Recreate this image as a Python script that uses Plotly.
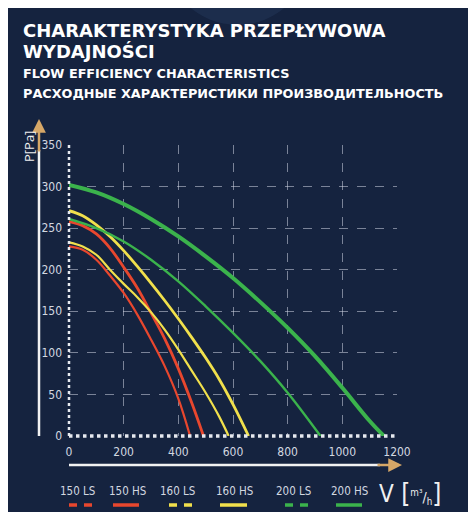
import plotly.graph_objects as go

# airflow V [m3/h] and pressure P [Pa]
v_150ls = [0, 50, 100, 150, 200, 250, 300, 350, 400, 443]
p_150ls = [228, 224, 212, 193, 172, 146, 116, 84, 45, 0]

v_150hs = [0, 50, 100, 150, 200, 250, 300, 350, 400, 450, 492]
p_150hs = [258, 253, 243, 226, 203, 178, 148, 117, 81, 39, 0]

v_160ls = [0, 50, 100, 150, 200, 250, 300, 350, 400, 450, 500, 550, 584]
p_160ls = [233, 228, 218, 200, 183, 167, 149, 128, 104, 78, 52, 23, 0]

v_160hs = [0, 50, 100, 150, 200, 250, 300, 350, 400, 450, 500, 550, 600, 657]
p_160hs = [271, 265, 254, 240, 223, 204, 184, 163, 141, 118, 94, 68, 38, 0]

v_200ls = [0, 100, 200, 300, 400, 500, 600, 700, 800, 920]
p_200ls = [261, 250, 234, 212, 186, 156, 124, 90, 52, 0]

v_200hs = [0, 100, 200, 300, 400, 500, 600, 700, 800, 900, 1000, 1100, 1152]
p_200hs = [302, 293, 279, 261, 240, 216, 190, 161, 130, 96, 58, 18, 0]

names = ["150 LS", "150 HS", "160 LS", "160 HS", "200 LS", "200 HS"]
x_ticks = [0, 200, 400, 600, 800, 1000, 1200]
y_ticks = [0, 50, 100, 150, 200, 250, 300, 350]

RED = "#e8472e"
YEL = "#f1e04c"
GRN = "#3bb34c"
BG = "#15233f"
TXT = "#d3d8e0"
NARROW = "Liberation Sans Narrow, DejaVu Sans Condensed, sans-serif"
HEAD = "DejaVu Sans, sans-serif"

series = [
    (v_150ls, p_150ls, RED, 2.2, "dash"),
    (v_150hs, p_150hs, RED, 2.8, "solid"),
    (v_160ls, p_160ls, YEL, 2.2, "dash"),
    (v_160hs, p_160hs, YEL, 2.8, "solid"),
    (v_200ls, p_200ls, GRN, 2.4, "dash"),
    (v_200hs, p_200hs, GRN, 4.0, "solid"),
]

fig = go.Figure()
for (vx, py, col, w, d), nm in zip(series, names):
    fig.add_trace(go.Scatter(x=vx, y=py, mode="lines", name=nm, line_shape="spline",
                             line=dict(color=col, width=w), showlegend=False))

# page has an 8px body margin, so the figure is made smaller and shifted
OFF = 8
W, H = 476 - OFF, 512 - OFF
# plot area in screen pixels: x 69..397, y 145..436
L, R, T, B = 69, 397, 145, 436
pw, ph = R - L, B - T


def px(x):
    return (x - L) / pw


def py_(y):
    return (B - y) / ph


fig.update_layout(
    width=W, height=H,
    margin=dict(l=L - OFF, r=476 - R, t=T - OFF, b=512 - B),
    paper_bgcolor=BG, plot_bgcolor="rgba(0,0,0,0)",
    font=dict(family=NARROW, color=TXT, size=12),
)
fig.update_xaxes(range=[0, 1200], tickvals=x_ticks, showgrid=True, gridcolor="rgba(205,212,225,0.55)",
                 griddash="dash", gridwidth=1, zeroline=False, showline=False, ticks="",
                 ticklabelstandoff=7, fixedrange=True)
fig.update_yaxes(range=[0, 350], tickvals=y_ticks, showgrid=True, gridcolor="rgba(205,212,225,0.55)",
                 griddash="dash", gridwidth=1, zeroline=False, showline=False, ticks="",
                 ticklabelstandoff=6, fixedrange=True)

shapes = []
# faint glow at the top of the background
shapes.append(dict(type="circle", xref="paper", yref="paper", layer="below",
                   x0=px(165), x1=px(310), y0=py_(25), y1=py_(-120),
                   fillcolor="rgba(70,100,150,0.16)", line=dict(width=0)))
# plot frame: left and bottom edges
shapes.append(dict(type="line", xref="paper", yref="paper", x0=0, x1=0, y0=0, y1=1,
                   line=dict(color="#e6e9ef", width=2.5, dash="dot")))
shapes.append(dict(type="line", xref="paper", yref="paper", x0=0, x1=1, y0=0, y1=0,
                   line=dict(color="#e6e9ef", width=3.5, dash="dot")))
# axis arrows
shapes.append(dict(type="line", xref="paper", yref="paper", x0=px(39), x1=px(39), y0=py_(436), y1=py_(150),
                   line=dict(color="#f2f2f2", width=2.5)))
shapes.append(dict(type="line", xref="paper", yref="paper", x0=px(69), x1=px(380), y0=py_(465), y1=py_(465),
                   line=dict(color="#f2f2f2", width=2.5)))

annotations = [
    dict(x=px(39), y=py_(119), ax=0, ay=34, xref="paper", yref="paper", showarrow=True,
         arrowhead=2, arrowsize=1.1, arrowwidth=2.5, arrowcolor="#d6a767", text=""),
    dict(x=px(402), y=py_(465), ax=-26, ay=0, xref="paper", yref="paper", showarrow=True,
         arrowhead=2, arrowsize=1.1, arrowwidth=2.5, arrowcolor="#d6a767", text=""),
    dict(x=px(29), y=py_(147), xref="paper", yref="paper", xanchor="center", yanchor="middle",
         text="P[Pa]", textangle=-90, showarrow=False,
         font=dict(family="Open Sans, sans-serif", size=13, color="#f0f0f0")),
    dict(x=px(377), y=py_(493), xref="paper", yref="paper", xanchor="left", yanchor="middle",
         text="V<span style='font-size:26px'> [</span><span style='font-size:14px'><sup>m³</sup>/<sub>h</sub>"
              "</span><span style='font-size:26px'>]</span>",
         showarrow=False, font=dict(family=NARROW, size=24, color="#f0f0f0")),
]
heads = [
    ("<b>CHARAKTERYSTYKA PRZEPŁYWOWA</b>", 30, 18),
    ("<b>WYDAJNOŚCI</b>", 51, 18),
    ("<b>FLOW EFFICIENCY CHARACTERISTICS</b>", 73, 12.8),
    ("<b>РАСХОДНЫЕ ХАРАКТЕРИСТИКИ ПРОИЗВОДИТЕЛЬНОСТЬ</b>", 94, 12.8),
]
for txt, ypix, sz in heads:
    annotations.append(dict(x=px(21), y=py_(ypix), xref="paper", yref="paper", xanchor="left",
                            yanchor="middle", text=txt, showarrow=False,
                            font=dict(family=HEAD, size=sz, color="white")))

# custom legend: label above a line sample
label_x = [77, 127, 177, 234, 293, 349]
key_x = [(69, 92), (113, 139), (169, 193), (220, 247), (285, 308), (336, 362)]
for nm, (vx, py, col, w, d), lx, (k0, k1) in zip(names, series, label_x, key_x):
    annotations.append(dict(x=px(lx), y=py_(491), xref="paper", yref="paper", xanchor="center",
                            yanchor="middle", text=nm, showarrow=False,
                            font=dict(size=11.5, color=TXT)))
    shapes.append(dict(type="line", xref="paper", yref="paper", x0=px(k0), x1=px(k1),
                       y0=py_(505), y1=py_(505),
                       line=dict(color=col, width=3.5, dash="8px,7px" if d == "dash" else "solid")))

fig.update_layout(shapes=shapes, annotations=annotations)
fig.write_html("out.html")
